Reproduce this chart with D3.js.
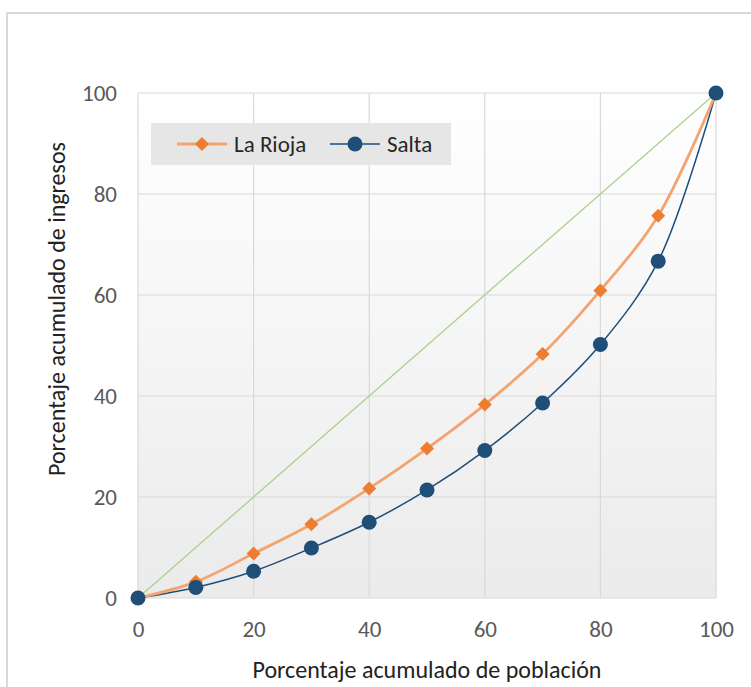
<!DOCTYPE html>
<html>
<head>
<meta charset="utf-8">
<script src="https://cdn.jsdelivr.net/npm/d3@7"></script>
<style>
    body { margin: 0; background: #fff; }
    text { font-family: Carlito, Calibri, "Open Sans", sans-serif; }
</style>
</head>
<body>
<div id="chart"></div>
<script>
const poblacion = [0, 10, 20, 30, 40, 50, 60, 70, 80, 90, 100];
const laRioja = [0, 3.2, 8.8, 14.6, 21.7, 29.6, 38.3, 48.3, 60.9, 75.7, 100];
const salta = [0, 2.1, 5.3, 9.9, 15.0, 21.4, 29.2, 38.6, 50.2, 66.7, 100];
const igualdad = [0, 100];
const ticks = [0, 20, 40, 60, 80, 100];

const width = 751, height = 687;
const margin = { top: 93, right: 35, bottom: 89, left: 138 };
const innerW = width - margin.left - margin.right;
const innerH = height - margin.top - margin.bottom;

const svg = d3.select('#chart').append('svg')
    .attr('width', width)
    .attr('height', height);

// outer chart frame
svg.append('rect')
    .attr('x', 7).attr('y', 13)
    .attr('width', 760).attr('height', 700)
    .attr('fill', '#fff')
    .attr('stroke', '#d9d9d9')
    .attr('stroke-width', 2);

const defs = svg.append('defs');
const grad = defs.append('linearGradient')
    .attr('id', 'bg').attr('x1', 0).attr('x2', 0).attr('y1', 0).attr('y2', 1);
grad.append('stop').attr('offset', '0%').attr('stop-color', '#ffffff');
grad.append('stop').attr('offset', '100%').attr('stop-color', '#ebebeb');

const chart = svg.append('g')
    .attr('transform', `translate(${margin.left},${margin.top})`);

const xScale = d3.scaleLinear().domain([0, 100]).range([0, innerW]);
const yScale = d3.scaleLinear().domain([0, 100]).range([innerH, 0]);

chart.append('rect')
    .attr('width', innerW)
    .attr('height', innerH)
    .attr('fill', 'url(#bg)');

// gridlines
chart.append('g')
    .selectAll('line')
    .data(ticks)
    .join('line')
    .attr('x1', 0).attr('x2', innerW)
    .attr('y1', d => yScale(d)).attr('y2', d => yScale(d))
    .attr('stroke', '#d9d9d9').attr('stroke-width', 1.2);

chart.append('g')
    .selectAll('line')
    .data(ticks)
    .join('line')
    .attr('y1', 0).attr('y2', innerH)
    .attr('x1', d => xScale(d)).attr('x2', d => xScale(d))
    .attr('stroke', '#d9d9d9').attr('stroke-width', 1.2);

// axes
const xAxis = d3.axisBottom(xScale).tickValues(ticks).tickSize(0);
const yAxis = d3.axisLeft(yScale).tickValues(ticks).tickSize(0).tickPadding(21);

const xAxisG = chart.append('g').attr('transform', `translate(0,${innerH})`).call(xAxis);
const yAxisG = chart.append('g').call(yAxis);
[xAxisG, yAxisG].forEach(g => {
    g.select('.domain').remove();
    g.selectAll('text')
        .style('font-size', '23px')
        .attr('fill', '#595959');
});
xAxisG.selectAll('text').attr('dy', null).attr('y', 39);

// axis titles
chart.append('text')
    .attr('x', innerW / 2)
    .attr('y', innerH + 80)
    .attr('text-anchor', 'middle')
    .style('font-size', '24px')
    .attr('fill', '#222')
    .text('Porcentaje acumulado de población');

chart.append('text')
    .attr('transform', 'rotate(-90)')
    .attr('x', -(309 - margin.top))
    .attr('y', -73)
    .attr('text-anchor', 'middle')
    .style('font-size', '24px')
    .attr('fill', '#222')
    .text('Porcentaje acumulado de ingresos');

// equality line
chart.append('path')
    .datum(igualdad)
    .attr('d', d3.line().x(d => xScale(d)).y(d => yScale(d)))
    .attr('fill', 'none')
    .attr('stroke', '#a9d18e')
    .attr('stroke-width', 1.3);

const line = d3.line()
    .x((d, i) => xScale(poblacion[i]))
    .y(d => yScale(d))
    .curve(d3.curveCatmullRom.alpha(0.5));

chart.append('path')
    .datum(salta)
    .attr('d', line)
    .attr('fill', 'none')
    .attr('stroke', '#1f4e79')
    .attr('stroke-width', 1.5);

chart.append('path')
    .datum(laRioja)
    .attr('d', line)
    .attr('fill', 'none')
    .attr('stroke', '#f4a46e')
    .attr('stroke-width', 2.8);

const diamond = d3.symbol().type(d3.symbolDiamond2).size(125);

chart.append('g')
    .selectAll('path')
    .data(laRioja)
    .join('path')
    .attr('d', diamond)
    .attr('transform', (d, i) => `translate(${xScale(poblacion[i])},${yScale(d)})`)
    .attr('fill', '#ed7d31');

chart.append('g')
    .selectAll('circle')
    .data(salta)
    .join('circle')
    .attr('cx', (d, i) => xScale(poblacion[i]))
    .attr('cy', d => yScale(d))
    .attr('r', 7.5)
    .attr('fill', '#1f4e79');

// legend
const legend = svg.append('g').attr('transform', 'translate(151,123)');
legend.append('rect')
    .attr('width', 300).attr('height', 42)
    .attr('fill', '#e6e6e6');

const items = [
    { name: 'La Rioja', color: '#ed7d31', line: '#f4a46e', x: 26 },
    { name: 'Salta', color: '#1f4e79', line: '#1f4e79', x: 179 }
];
items.forEach(it => {
    const g = legend.append('g').attr('transform', `translate(${it.x},21)`);
    g.append('line').attr('x1', 0).attr('x2', 50)
        .attr('stroke', it.line).attr('stroke-width', it.name === 'Salta' ? 1.5 : 2.8);
    if (it.name === 'Salta') {
        g.append('circle').attr('cx', 25).attr('r', 7.5).attr('fill', it.color);
    } else {
        g.append('path').attr('d', diamond).attr('transform', 'translate(25,0)').attr('fill', it.color);
    }
    g.append('text').attr('x', 57).attr('y', 8)
        .style('font-size', '23px').attr('fill', '#262626')
        .text(it.name);
});
</script>
</body>
</html>
